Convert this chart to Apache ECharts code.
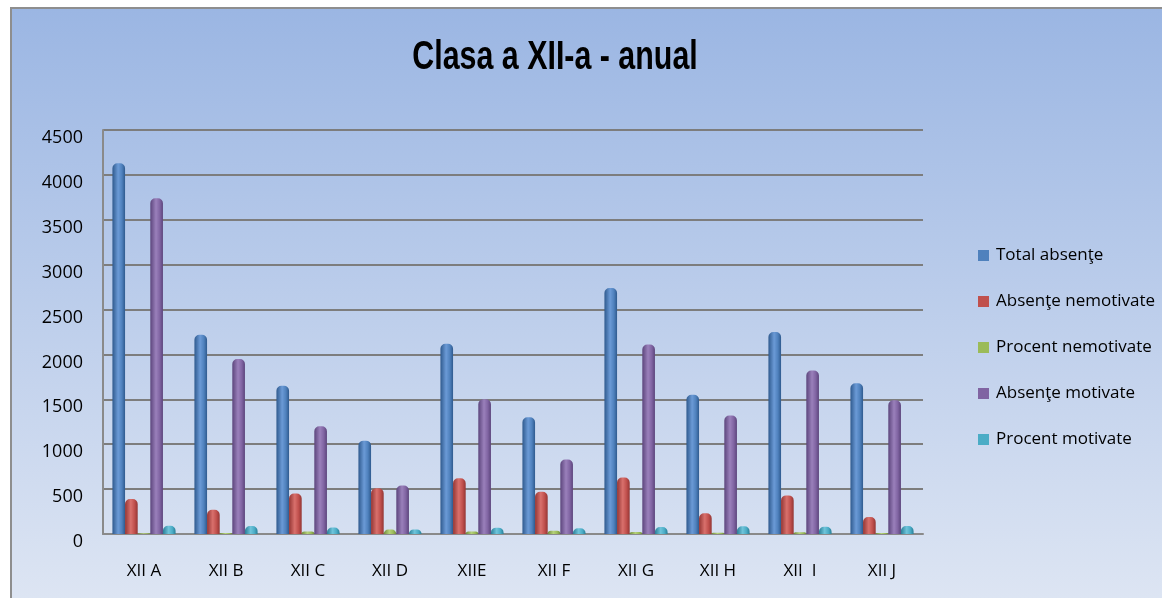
<!DOCTYPE html>
<html>
<head>
<meta charset="utf-8">
<script src="https://cdn.jsdelivr.net/npm/echarts@6/dist/echarts.min.js"></script>
<style>
  html, body { margin: 0; padding: 0; background: #fff; }
  #chart {
    position: absolute; left: 10px; top: 7px; width: 1152px; height: 591px;
    border-top: 2px solid #8e8e8e; border-left: 2px solid #8e8e8e;
  }
</style>
</head>
<body>
<div id="chart"></div>
<script>
  var categories = ['XII A', 'XII B', 'XII C', 'XII D', 'XIIE', 'XII F', 'XII G', 'XII H', 'XII  I', 'XII J'];
  var totalAbsente = [4130, 2220, 1650, 1040, 2120, 1300, 2740, 1550, 2250, 1680];
  var absenteNemotivate = [390, 270, 450, 510, 620, 470, 630, 230, 430, 190];
  var procentNemotivate = [9.4, 12.2, 27.3, 49, 29.2, 36.2, 23, 14.8, 19.1, 11.3];
  var absenteMotivate = [3740, 1950, 1200, 540, 1500, 830, 2110, 1320, 1820, 1490];
  var procentMotivate = [90.6, 87.8, 72.7, 51, 70.8, 63.8, 77, 85.2, 80.9, 88.7];
  var seriesNames = ['Total absenţe', 'Absenţe nemotivate', 'Procent nemotivate', 'Absenţe motivate', 'Procent motivate'];
  var chartTitle = 'Clasa a XII-a - anual';

  //region cylinder colours
  function cylinder(dark, mid, light) {
    return new echarts.graphic.LinearGradient(0, 0, 1, 0, [
      { offset: 0, color: dark },
      { offset: 0.45, color: light },
      { offset: 0.75, color: mid },
      { offset: 1, color: dark }
    ]);
  }
  var palette = [
    ['#2f5a8e', '#4f81bd', '#6b9ad6'],
    ['#943634', '#c0504d', '#d9706c'],
    ['#6f8a3a', '#9bbb59', '#b5d17a'],
    ['#5c457c', '#8064a2', '#9a80bb'],
    ['#2a7f97', '#4bacc6', '#6fc4da']
  ];
  var legendColors = ['#4f81bd', '#c0504d', '#9bbb59', '#8064a2', '#4bacc6'];
  //endregion

  var chart = echarts.init(document.getElementById('chart'));
  var dataSets = [totalAbsente, absenteNemotivate, procentNemotivate, absenteMotivate, procentMotivate];

  var series = dataSets.map(function (d, i) {
    return {
      name: seriesNames[i],
      type: 'bar',
      data: d,
      barGap: '0%',
      barCategoryGap: '23%',
      itemStyle: {
        color: cylinder(palette[i][0], palette[i][1], palette[i][2]),
        borderRadius: [5, 5, 0, 0]
      }
    };
  });

  var option = {
    backgroundColor: new echarts.graphic.LinearGradient(0, 0, 0, 1, [
      { offset: 0, color: '#9bb6e3' },
      { offset: 1, color: '#dde5f3' }
    ]),
    color: legendColors,
    // condensed bold title, squeezed like the original Calibri
    graphic: [{
      type: 'text',
      x: 543,
      y: 49,
      scaleX: 0.76,
      style: {
        text: chartTitle,
        font: 'bold 40px "Liberation Sans", sans-serif',
        fill: '#000',
        align: 'center',
        verticalAlign: 'middle'
      }
    }],
    legend: {
      orient: 'vertical',
      left: 961,
      top: 233,
      itemWidth: 11,
      itemHeight: 11,
      itemGap: 29,
      icon: 'rect',
      data: seriesNames.map(function (n, i) {
        return { name: n, itemStyle: { color: legendColors[i] } };
      }),
      textStyle: {
        fontFamily: 'Open Sans, Liberation Sans, sans-serif',
        fontSize: 17,
        color: '#000',
        padding: [0, 0, 0, 2]
      }
    },
    grid: {
      left: 91,
      top: 121,
      width: 820,
      height: 404
    },
    xAxis: {
      type: 'category',
      data: categories,
      axisTick: { show: false },
      axisLine: { lineStyle: { color: '#8a8a8a', width: 2 } },
      axisLabel: {
        margin: 29,
        fontFamily: 'Open Sans, Liberation Sans, sans-serif',
        fontSize: 17,
        color: '#000'
      }
    },
    yAxis: {
      type: 'value',
      min: 0,
      max: 4500,
      interval: 500,
      axisLine: { show: true, lineStyle: { color: '#8a8a8a', width: 2 } },
      axisTick: { show: false },
      splitLine: { lineStyle: { color: '#7d7d7d', width: 2 } },
      axisLabel: {
        margin: 20,
        verticalAlign: 'top',
        lineHeight: 16,
        formatter: function (v) { return String(v); },
        fontFamily: 'Open Sans, Liberation Sans, sans-serif',
        fontSize: 18,
        color: '#000'
      }
    },
    series: series
  };
  chart.setOption(option);
</script>
</body>
</html>
